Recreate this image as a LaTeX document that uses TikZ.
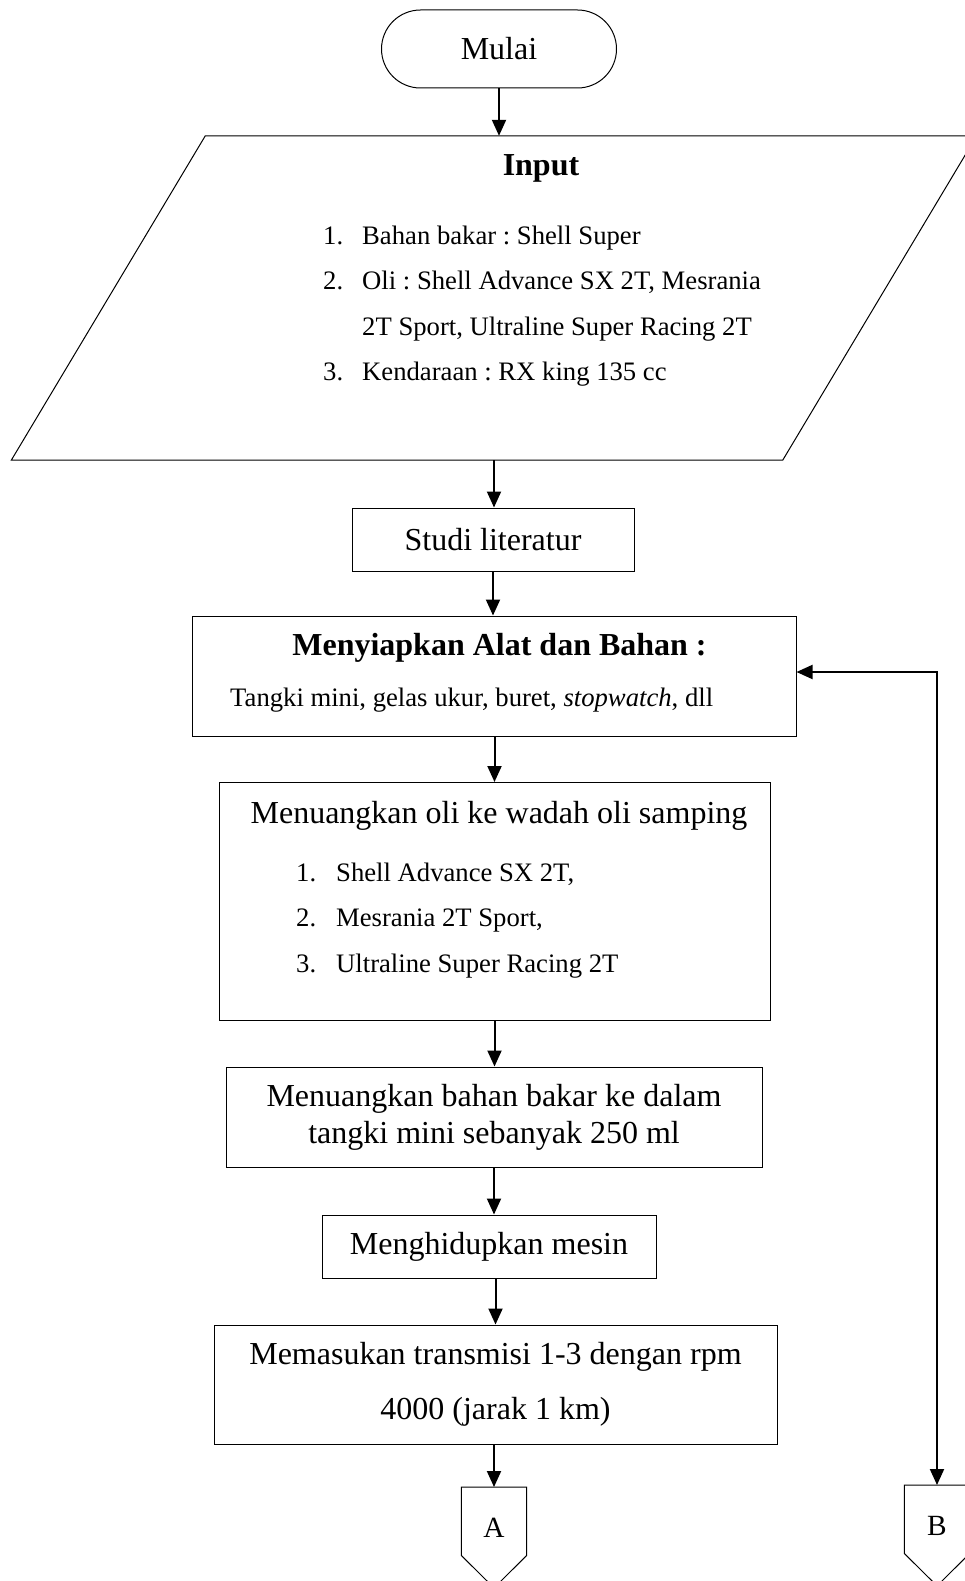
\documentclass[tikz,border=0pt]{standalone}
\usepackage{fontspec}
\setmainfont{Liberation Serif}
\frenchspacing
\usetikzlibrary{arrows.meta,positioning}

\begin{document}
\begin{tikzpicture}[x=1pt,y=-1pt,
    besar/.style={font=\fontsize{32}{37}\selectfont},
    tebal/.style={font=\fontsize{32}{37}\selectfont\bfseries},
    kecil/.style={font=\fontsize{26.67}{45.6}\selectfont},
    proses/.style={draw,line width=1pt,inner sep=0pt,besar},
    terminal/.style={proses,rounded corners=39pt,minimum width=235pt,minimum height=78pt},
    masukan/.style={inner sep=0pt,minimum width=577pt,minimum height=324pt},
    konektor/.style={inner sep=0pt,minimum width=65pt,minimum height=68pt,text height=32pt,text depth=0pt,
      font=\fontsize{29.33}{34}\selectfont},
    garis/.style={line width=1pt,line join=miter},
    panah/.style={-{Triangle[length=16pt,width=14pt]},line width=2pt},
    panahdua/.style={{Triangle[length=16pt,width=14pt]}-{Triangle[length=16pt,width=14pt]},line width=2pt},
    teks/.style={inner sep=0pt}]
  \useasboundingbox (0,0) rectangle (965,1581);

  \node[terminal] (mulai) at (499,49) {Mulai};

  % input bahan
  \node[masukan] (input) at (494,298) {};
  \draw[garis] (input.north west) -- ([xshift=194pt]input.north east) -- (input.south east)
    -- ([xshift=-194pt]input.south west) -- cycle;
  \node[teks,tebal,anchor=base] (judulinput) at (541,176) {Input};
  \node[teks,kecil,anchor=base west] (isiinput) at (323,244)
    {\begin{tabular}[t]{@{}p{39pt}@{}l@{}}
      1. & Bahan bakar : Shell Super\\
      2. & Oli : Shell Advance SX 2T, Mesrania\\
         & 2T Sport, Ultraline Super Racing 2T\\
      3. & Kendaraan : RX king 135 cc
    \end{tabular}};

  \node[proses,minimum width=282pt,minimum height=63pt] (studi) at (493,539.5) {Studi literatur};

  \node[proses,minimum width=604pt,minimum height=120pt] (siap) at (494,676) {};
  \node[teks,tebal,anchor=base] (judulsiap) at (499.5,655) {Menyiapkan Alat dan Bahan :};
  \node[teks,kecil,anchor=base west] (isisiap) at (230,706)
    {Tangki mini, gelas ukur, buret, \textit{stopwatch}, dll};

  \node[proses,minimum width=551pt,minimum height=238pt] (oli) at (494.5,901.5) {};
  \node[teks,besar,anchor=base] (judoli) at (499,823) {Menuangkan oli ke wadah oli samping};
  \node[teks,kecil,anchor=base west] (isioli) at (296,881)
    {\begin{tabular}[t]{@{}p{40pt}@{}l@{}}
      1. & Shell Advance SX 2T,\\
      2. & Mesrania 2T Sport,\\
      3. & Ultraline Super Racing 2T
    \end{tabular}};

  \node[proses,align=center,minimum width=536pt,minimum height=100pt] (bahan) at (494,1117)
    {Menuangkan bahan bakar ke dalam\\tangki mini sebanyak 250 ml};
  \node[proses,minimum width=334pt,minimum height=63pt] (mesin) at (489,1246.5) {Menghidupkan mesin};
  \node[proses,align=center,font=\fontsize{32}{55}\selectfont,minimum width=563pt,minimum height=119pt]
    (transmisi) at (495.5,1384.5) {Memasukan transmisi 1-3 dengan rpm\\4000 (jarak 1 km)};

  % konektor halaman
  \node[konektor,anchor=north] (konA) at (494,1487) {A};
  \node[konektor,anchor=north] (konB) at (937,1485) {B};
  \foreach \k in {konA,konB}
    \draw[garis] (\k.south west) -- (\k.north west) -- (\k.north east) -- (\k.south east)
      -- ([yshift=-32.5pt]\k.south) -- cycle;

  % alur
  \draw[panah] (mulai.south) -- (mulai.south |- input.north);
  \draw[panah] (input.south) -- (input.south |- studi.north);
  \draw[panah] (studi.south) -- (studi.south |- siap.north);
  \draw[panah] (oli.north |- siap.south) -- (oli.north);
  \draw[panah] (oli.south) -- (oli.south |- bahan.north);
  \draw[panah] (bahan.south) -- (bahan.south |- mesin.north);
  \draw[panah] (transmisi.north |- mesin.south) -- (transmisi.north);
  \draw[panah] (konA.north |- transmisi.south) -- (konA.north);
  \draw[panahdua] ([yshift=4pt]siap.east) -| (konB.north);
\end{tikzpicture}
\end{document}
